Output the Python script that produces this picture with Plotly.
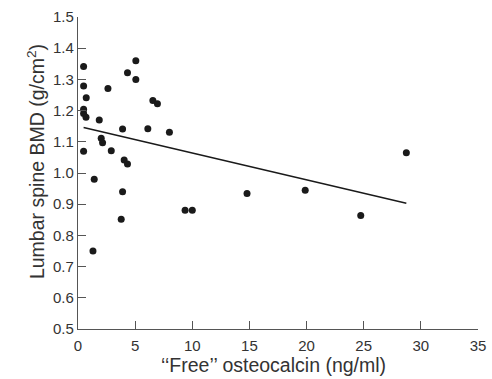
import plotly.graph_objects as go

free_osteocalcin = [0.49, 0.49, 0.72, 0.49, 0.49, 0.70, 1.86, 2.62, 3.90, 4.33,
                    5.06, 5.06, 6.11, 6.55, 6.95, 8.00, 2.03, 2.15, 0.49, 2.91,
                    4.04, 4.33, 1.42, 3.90, 14.79, 9.37, 10.00, 3.78, 1.31, 28.73,
                    19.88, 24.74]
lumbar_bmd = [1.341, 1.279, 1.241, 1.204, 1.191, 1.179, 1.170, 1.271, 1.141, 1.321,
              1.360, 1.300, 1.142, 1.232, 1.222, 1.131, 1.111, 1.097, 1.070, 1.071,
              1.042, 1.029, 0.980, 0.940, 0.934, 0.881, 0.881, 0.852, 0.750, 1.065,
              0.945, 0.864]
fit_x = [0.49, 28.73]
fit_y = [1.146, 0.903]

x_ticks = [0, 5, 10, 15, 20, 25, 30, 35]
y_ticks = [0.5, 0.6, 0.7, 0.8, 0.9, 1.0, 1.1, 1.2, 1.3, 1.4, 1.5]
x_title = "‘‘Free’’ osteocalcin (ng/ml)"
y_title = "Lumbar spine BMD (g/cm<sup>2</sup>)"

font = "Liberation Sans, Arial, sans-serif"
fig = go.Figure()
fig.add_trace(go.Scatter(x=fit_x, y=fit_y, mode="lines",
                         line=dict(color="#1a1a1a", width=1.4), hoverinfo="skip"))
fig.add_trace(go.Scatter(x=free_osteocalcin, y=lumbar_bmd, mode="markers",
                         marker=dict(color="#1a1a1a", size=7)))
fig.update_layout(
    width=492, height=379,
    margin=dict(l=78, r=14, t=17, b=50),
    paper_bgcolor="white", plot_bgcolor="white",
    showlegend=False,
    font=dict(family=font, size=15, color="#333333"),
    xaxis=dict(range=[0, 35], tickvals=x_ticks, ticks="inside", ticklen=8,
               tickcolor="#555555", showline=True, linecolor="#555555", linewidth=1.2,
               showgrid=False, zeroline=False, automargin=False, ticklabelstandoff=3),
    yaxis=dict(range=[0.5, 1.5], tickvals=y_ticks, tickformat=".1f", ticks="inside",
               ticklen=8, tickcolor="#555555", showline=True, linecolor="#555555",
               linewidth=1.2, showgrid=False, zeroline=False, automargin=False),
    annotations=[
        dict(text=x_title, xref="paper", yref="paper", x=0.4875, y=0,
             xanchor="center", yanchor="top", yshift=-23, showarrow=False,
             font=dict(size=19.5)),
        dict(text=y_title, xref="paper", yref="paper", x=0, y=0.535,
             xanchor="center", yanchor="middle", xshift=-42, textangle=-90,
             showarrow=False, font=dict(size=19.5)),
    ],
)
fig.write_html("out.html", config={"displayModeBar": False},
               post_script="document.body.style.margin='0';document.body.style.overflow='hidden';")
